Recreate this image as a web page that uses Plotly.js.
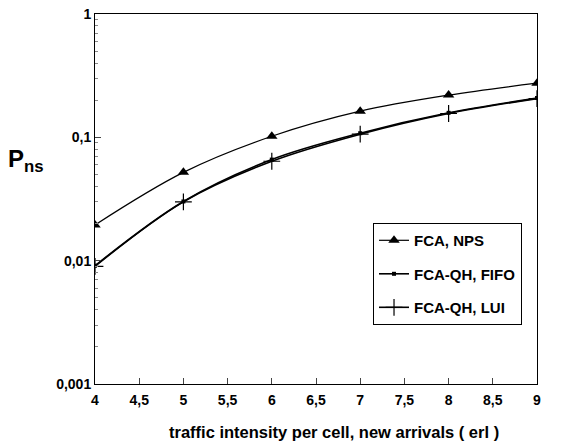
<!DOCTYPE html>
<html><head><meta charset="utf-8">
<script src="https://cdn.plot.ly/plotly-3.0.1.min.js"></script>
<style>html,body{margin:0;padding:0;background:#fff}#c{width:584px;height:445px}</style>
</head><body><div id="c"></div>
<script>
const traffic = [4, 5, 6, 7, 8, 9];
const fcaNps = [0.0195, 0.052, 0.102, 0.163, 0.22, 0.275];
const fcaQhFifo = [0.0091, 0.0302, 0.066, 0.108, 0.158, 0.208];
const fcaQhLui = [0.0090, 0.0300, 0.064, 0.106, 0.156, 0.206];
const xTicks = [4, 4.5, 5, 5.5, 6, 6.5, 7, 7.5, 8, 8.5, 9];
const yTickVals = [0.001, 0.01, 0.1, 1];
const yTickText = ['0,001', '0,01', '0,1', '1'];
const xTitle = 'traffic intensity per cell, new arrivals ( erl )';

const F = 'Liberation Sans, Arial, sans-serif';
const traces = [
  {x: traffic, y: fcaNps, name: 'FCA, NPS', legendgroup: 'a', mode: 'lines+markers',
   line: {color: '#000', width: 1.2, shape: 'spline'},
   marker: {symbol: 'triangle-up', size: 10, color: '#000'}},
  {x: traffic, y: fcaQhFifo, name: 'FCA-QH, FIFO', legendgroup: 'b', mode: 'lines+markers',
   line: {color: '#000', width: 1.6, shape: 'spline'},
   marker: {symbol: 'square', size: 4, color: '#000'}},
  {x: traffic, y: fcaQhLui, name: 'FCA-QH, LUI', legendgroup: 'c', mode: 'lines+markers',
   line: {color: '#000', width: 1.6, shape: 'spline'},
   marker: {symbol: 'cross-thin', size: 12, color: '#000', line: {color: '#000', width: 1.2}}}
];
const layout = {
  width: 584, height: 445,
  margin: {l: 95, r: 47, t: 14, b: 61},
  paper_bgcolor: '#fff', plot_bgcolor: '#fff',
  separators: ', ',
  font: {family: F, color: '#000'},
  showlegend: true,
  legend: {x: 0.629, y: 0.435, xanchor: 'left', yanchor: 'top',
    bordercolor: '#000', borderwidth: 1, bgcolor: '#fff',
    font: {family: F, size: 15, color: '#000', weight: 'bold'},
    tracegroupgap: 11, itemwidth: 30},
  xaxis: {range: [4, 9], tickvals: xTicks, ticks: 'inside', ticklen: 6,
    showline: true, linecolor: '#000', linewidth: 1, mirror: true,
    showgrid: false, zeroline: false, ticklabelstandoff: 3,
    tickfont: {family: F, size: 14, weight: 'bold'}},
  yaxis: {type: 'log', range: [-3, 0], tickvals: yTickVals, ticktext: yTickText,
    ticks: 'inside', ticklen: 6, showline: true, linecolor: '#000', linewidth: 1, mirror: true,
    showgrid: false, zeroline: false,
    tickfont: {family: F, size: 14, weight: 'bold'},
    minor: {tickvals: [0.002,0.003,0.004,0.005,0.006,0.007,0.008,0.009,0.02,0.03,0.04,0.05,0.06,0.07,0.08,0.09,0.2,0.3,0.4,0.5,0.6,0.7,0.8,0.9], ticks: 'inside', ticklen: 3, tickcolor: '#888'}},
  annotations: [
    {xref: 'paper', yref: 'paper', x: -0.155, y: 0.605, xanchor: 'center', yanchor: 'middle',
     showarrow: false, text: 'P<sub>ns</sub>', font: {family: F, size: 24, weight: 'bold', color: '#000'}},
    {xref: 'paper', yref: 'paper', x: 0.541, y: -0.13, xanchor: 'center', yanchor: 'middle',
     showarrow: false, text: xTitle, font: {family: F, size: 16.5, weight: 'bold', color: '#000'}}
  ]
};
Plotly.newPlot('c', traces, layout, {displayModeBar: false, staticPlot: true});
</script></body></html>
